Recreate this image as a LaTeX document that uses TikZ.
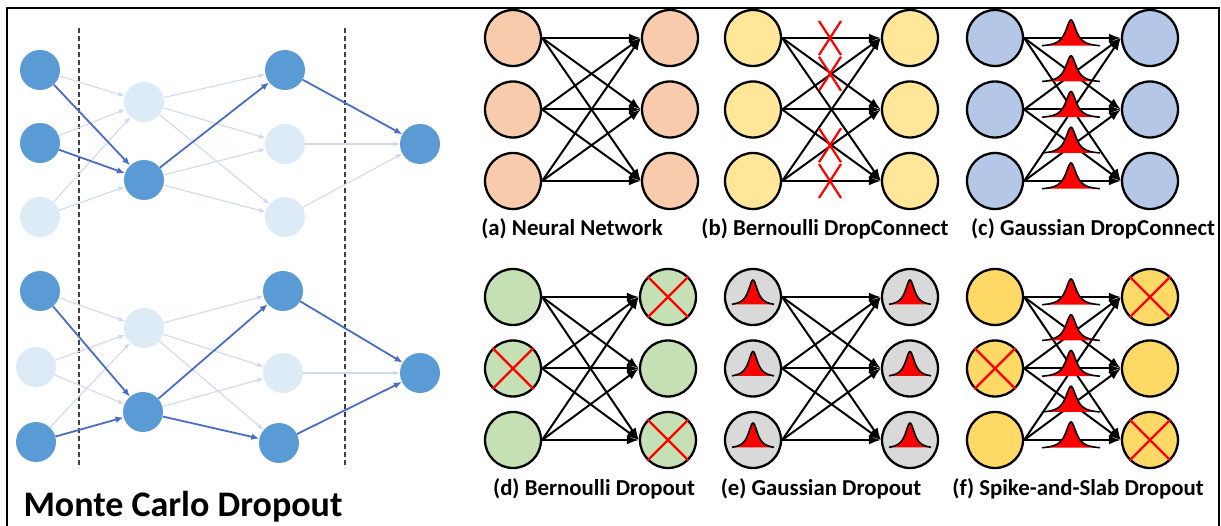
\documentclass[tikz,border=0pt]{standalone}
\usepackage{fontspec}
\setmainfont{Carlito}
\usetikzlibrary{arrows.meta}

% Monte Carlo network colours
\definecolor{mcdark}{HTML}{5B9BD5}
\definecolor{mclight}{HTML}{DDEBF7}
\definecolor{mcedge}{HTML}{4A6CC6}
\definecolor{mcfaint}{HTML}{D3D8F1}
% panel fills
\definecolor{fillA}{HTML}{F8CBAD}
\definecolor{fillB}{HTML}{FFE699}
\definecolor{fillC}{HTML}{B4C7E7}
\definecolor{fillD}{HTML}{C5E0B4}
\definecolor{fillE}{HTML}{D9D9D9}
\definecolor{fillF}{HTML}{FFD966}

\tikzset{
  mcon/.style={circle, fill=mcdark, minimum size=40pt, inner sep=0pt},
  mcoff/.style={circle, fill=mclight, minimum size=40pt, inner sep=0pt},
  kept/.style={draw=mcedge, line width=1.8pt, -{Latex[length=8pt,width=6.5pt]}},
  dropped/.style={draw=mcfaint, line width=1.1pt, -{Latex[length=6.5pt,width=5pt]}},
  guide/.style={draw=black!75, line width=1.2pt, dash pattern=on 5pt off 3pt},
  neuron/.style={circle, draw=black, line width=2.3pt, minimum size=56pt, inner sep=0pt},
  link/.style={draw=black, line width=2pt, -{Latex[length=12pt,width=9pt]}},
  cross/.style={draw=red, line width=2.2pt},
  caption/.style={font=\bfseries\fontsize{22.8}{26}\selectfont, inner sep=0pt, anchor=base},
  % wide bell curve sitting on a weight
  wbump/.pic={
    \fill[red] plot[domain=-29:29, samples=81, smooth] (\x, {-27/(1+(\x/6.5)^2)}) -- cycle;
    \draw[black, line width=1.6pt] plot[domain=-29:29, samples=81, smooth] (\x, {-27/(1+(\x/6.5)^2)});
  },
  % narrower bell curve inside a unit
  nbump/.pic={
    \fill[red] plot[domain=-21:21, samples=61, smooth] (\x, {-26/(1+(\x/5.6)^2)}) -- cycle;
    \draw[black, line width=1.6pt] plot[domain=-21:21, samples=61, smooth] (\x, {-26/(1+(\x/5.6)^2)});
  },
  % red cross over a single weight
  wcross/.pic={
    \draw[cross] (-11,-17) -- (11,17) (-11,17) -- (11,-17);
  },
}

% fully connected 3-to-3 layer: prefix, left x, right x, top y, fill colour
\newcommand\netpanel[5]{%
  \foreach \i/\yy in {1/0,2/71.5,3/143} {
    \node[neuron, fill=#5] (#1l\i) at (#2, #4+\yy) {};
    \node[neuron, fill=#5] (#1r\i) at (#3, #4+\yy) {};
  }
  \foreach \i in {1,2,3} {
    \foreach \j in {1,2,3} {
      \draw[link] (#1l\i.east) -- (#1r\j.west);
    }
  }
}
% dropped unit
\newcommand\dropunit[1]{%
  \draw[cross] (#1.135) -- (#1.-45) (#1.45) -- (#1.-135);
}

\begin{document}
\begin{tikzpicture}[x=1pt, y=-1pt]
\useasboundingbox (0,0) rectangle (1221,526);

% frame
\draw[line width=2pt] (7,540) -- (7,8) -- (1219,8) -- (1219,540);

% ---------------- Monte Carlo dropout ----------------
\draw[guide] (79,28) -- (79,468);
\draw[guide] (345,28) -- (345,468);

% first sample
\node[mcon]  (A1) at (40,70) {};
\node[mcon]  (A2) at (40,143) {};
\node[mcoff] (A3) at (40,217) {};
\node[mcoff] (B1) at (144,102) {};
\node[mcon]  (B2) at (144,180) {};
\node[mcon]  (C1) at (285,70) {};
\node[mcoff] (C2) at (285,144) {};
\node[mcoff] (C3) at (285,217) {};
\node[mcon]  (D)  at (420,144) {};

\foreach \a/\b in {A1/B1, A2/B1, A3/B1, A3/B2, B1/C1, B1/C2, B1/C3, B2/C2, B2/C3, C2/D, C3/D}
  \draw[dropped] (\a) -- (\b);
\foreach \a/\b in {A1/B2, A2/B2, B2/C1, C1/D}
  \draw[kept] (\a) -- (\b);

% second sample
\node[mcon]  (E1) at (40,291) {};
\node[mcoff] (E2) at (36,367) {};
\node[mcon]  (E3) at (36,442) {};
\node[mcoff] (F1) at (144,328) {};
\node[mcon]  (F2) at (143,412) {};
\node[mcon]  (G1) at (283,291) {};
\node[mcoff] (G2) at (283,373) {};
\node[mcon]  (G3) at (279,443) {};
\node[mcon]  (H)  at (420,373) {};

\foreach \a/\b in {E1/F1, E2/F1, E2/F2, E3/F1, F1/G1, F1/G2, F1/G3, F2/G2, G2/H}
  \draw[dropped] (\a) -- (\b);
\foreach \a/\b in {E1/F2, E3/F2, F2/G1, F2/G3, G1/H, G3/H}
  \draw[kept] (\a) -- (\b);

\node[font=\bfseries\fontsize{36}{42}\selectfont, inner sep=0pt, anchor=base] (mctitle) at (183,516) {Monte Carlo Dropout};

% ---------------- (a) neural network ----------------
\netpanel{a}{513}{670}{38}{fillA}
\node[caption] (capa) at (572,236) {(a) Neural Network};

% ---------------- (b) Bernoulli DropConnect ----------------
\netpanel{b}{753}{910}{38}{fillB}
\foreach \yy in {38, 73.75, 145.25, 181}
  \pic at (830,\yy) {wcross};
\node[caption] (capb) at (825,236) {(b) Bernoulli DropConnect};

% ---------------- (c) Gaussian DropConnect ----------------
\netpanel{c}{995}{1150}{38}{fillC}
\foreach \yy in {38, 73.75, 109.5, 145.25, 181}
  \pic at (1071,\yy+9) {wbump};
\node[caption] (capc) at (1093,236) {(c) Gaussian DropConnect};

% ---------------- (d) Bernoulli dropout ----------------
\netpanel{d}{513}{668}{297}{fillD}
\dropunit{dl2}
\dropunit{dr1}
\dropunit{dr3}
\node[caption] (capd) at (594,495) {(d) Bernoulli Dropout};

% ---------------- (e) Gaussian dropout ----------------
\netpanel{e}{753}{910}{297}{fillE}
\foreach \n in {el1, el2, el3, er1, er2, er3}
  \pic at ([yshift=-9pt]\n.center) {nbump};
\node[caption] (cape) at (821,495) {(e) Gaussian Dropout};

% ---------------- (f) spike-and-slab dropout ----------------
\netpanel{f}{995}{1150}{297}{fillF}
\foreach \yy in {297, 332.75, 368.5, 404.25, 440}
  \pic at (1071,\yy+9) {wbump};
\dropunit{fl2}
\dropunit{fr1}
\dropunit{fr3}
\node[caption] (capf) at (1078,495) {(f) Spike-and-Slab Dropout};

\end{tikzpicture}
\end{document}
